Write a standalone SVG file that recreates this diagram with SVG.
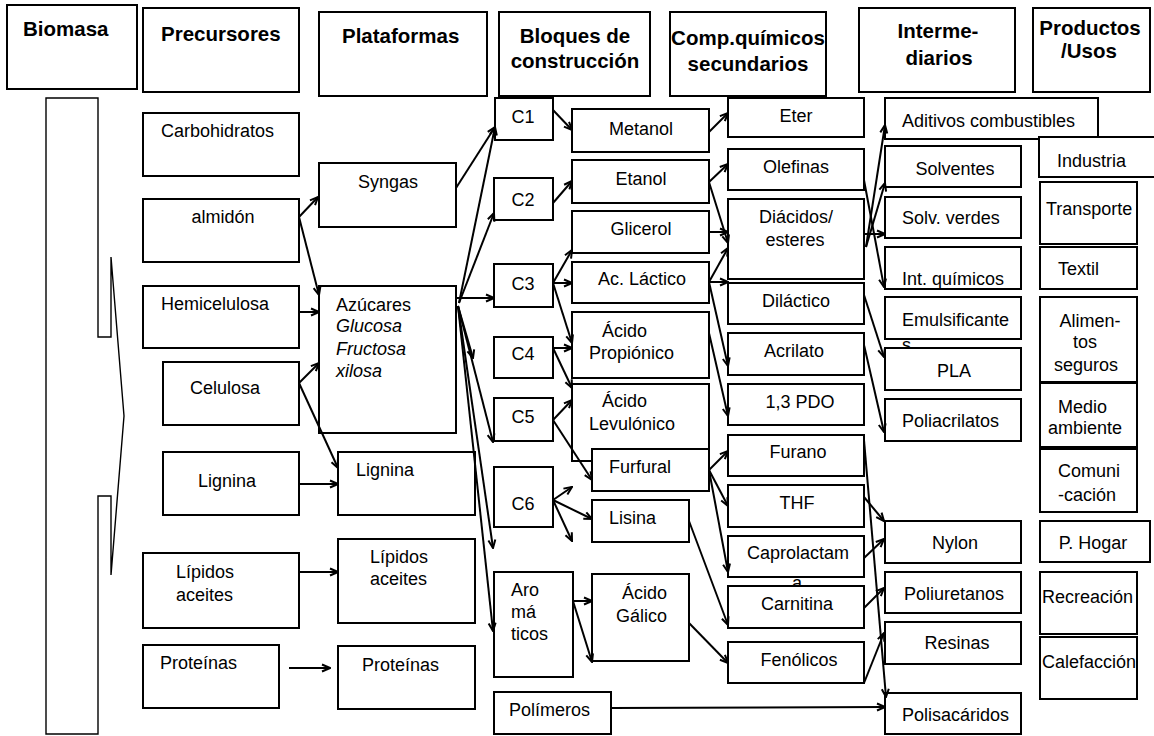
<svg xmlns="http://www.w3.org/2000/svg" width="1154" height="736" viewBox="0 0 1154 736">
<style>
.b{fill:#fff;stroke:#000;stroke-width:2}
text{font-family:"Liberation Sans",Arial,sans-serif;font-size:18px;fill:#000}
.h{font-weight:bold;font-size:20.5px}
.m{text-anchor:middle}
.i{font-style:italic}
#connectors path{fill:none;stroke:#000;stroke-width:2;marker-end:url(#ah)}
</style>
<defs>
<marker id="ah" viewBox="0 0 10 10" refX="9" refY="5" markerWidth="10" markerHeight="10" markerUnits="userSpaceOnUse" orient="auto">
<path d="M1,1.5 L9,5 L1,8.5" fill="none" stroke="#000" stroke-width="2"/>
</marker>
</defs>
<rect width="1154" height="736" fill="#fff"/>

<!-- headers -->
<g id="h-biomasa"><rect class="b" x="7" y="5" width="130" height="84"/><text class="h" x="23" y="36">Biomasa</text></g>
<g id="h-precursores"><rect class="b" x="143" y="8" width="156" height="84"/><text class="h" x="161" y="41">Precursores</text></g>
<g id="h-plataformas"><rect class="b" x="319" y="12" width="168" height="84"/><text class="h" x="342" y="43">Plataformas</text></g>
<g id="h-bloques"><rect class="b" x="499" y="12" width="151" height="84"/><text class="h m" x="575" y="43">Bloques de</text><text class="h m" x="575" y="68">construcción</text></g>
<g id="h-comp"><rect class="b" x="670" y="12" width="156" height="84"/><text class="h m" x="748" y="45">Comp.químicos</text><text class="h m" x="748" y="71">secundarios</text></g>
<g id="h-intermediarios"><rect class="b" x="859" y="8" width="156" height="84"/><text class="h m" x="938" y="38">Interme-</text><text class="h m" x="939" y="65">diarios</text></g>
<g id="h-productos"><rect class="b" x="1033" y="8" width="117" height="84"/><text class="h m" x="1090" y="35">Productos</text><text class="h m" x="1089" y="58">/Usos</text></g>

<!-- biomasa arrow shape -->
<g id="biomasa-shape"><path d="M46,98 H98 V337 H111 V257 L124,416 L111,575 V496 H98 V734 H46 Z" fill="#fff" stroke="#000" stroke-width="1.4"/></g>

<!-- precursores -->
<g id="p-carbohidratos"><rect class="b" x="143" y="113" width="156" height="63"/><text x="161" y="137">Carbohidratos</text></g>
<g id="p-almidon"><rect class="b" x="143" y="199" width="156" height="63"/><text class="m" x="223" y="223">almidón</text></g>
<g id="p-hemicelulosa"><rect class="b" x="143" y="286" width="156" height="62"/><text x="161" y="310">Hemicelulosa</text></g>
<g id="p-celulosa"><rect class="b" x="163" y="362" width="136" height="63"/><text x="190" y="394">Celulosa</text></g>
<g id="p-lignina"><rect class="b" x="163" y="452" width="136" height="63"/><text x="198" y="487">Lignina</text></g>
<g id="p-lipidos"><rect class="b" x="143" y="553" width="156" height="75"/><text x="176" y="578">Lípidos</text><text x="176" y="601">aceites</text></g>
<g id="p-proteinas"><rect class="b" x="143" y="645" width="136" height="63"/><text x="160" y="669">Proteínas</text></g>

<!-- plataformas -->
<g id="pl-syngas"><rect class="b" x="319" y="163" width="137" height="64"/><text class="m" x="388" y="188">Syngas</text></g>
<g id="pl-azucares"><rect class="b" x="319" y="286" width="137" height="147"/><text x="336" y="311">Azúcares</text><text class="i" x="336" y="332">Glucosa</text><text class="i" x="336" y="355">Fructosa</text><text class="i" x="336" y="377">xilosa</text></g>
<g id="pl-lignina"><rect class="b" x="338" y="452" width="137" height="63"/><text x="356" y="476">Lignina</text></g>
<g id="pl-lipidos"><rect class="b" x="338" y="539" width="137" height="84"/><text x="370" y="563">Lípidos</text><text x="370" y="585">aceites</text></g>
<g id="pl-proteinas"><rect class="b" x="338" y="646" width="137" height="63"/><text x="362" y="671">Proteínas</text></g>

<!-- bloques -->
<g id="b-c1"><rect class="b" x="495" y="98" width="58" height="42"/><text class="m" x="523" y="123">C1</text></g>
<g id="b-c2"><rect class="b" x="494" y="178" width="59" height="42"/><text class="m" x="523" y="206">C2</text></g>
<g id="b-c3"><rect class="b" x="494" y="264" width="59" height="43"/><text class="m" x="523" y="290">C3</text></g>
<g id="b-c4"><rect class="b" x="494" y="337" width="59" height="41"/><text class="m" x="523" y="360">C4</text></g>
<g id="b-c5"><rect class="b" x="494" y="398" width="59" height="43"/><text class="m" x="523" y="423">C5</text></g>
<g id="b-c6"><rect class="b" x="494" y="467" width="59" height="60"/><text class="m" x="523" y="510">C6</text></g>
<g id="b-aromaticos"><rect class="b" x="494" y="572" width="79" height="105"/><text x="511" y="596">Aro</text><text x="511" y="618">má</text><text x="511" y="640">ticos</text></g>
<g id="b-polimeros"><rect class="b" x="494" y="692" width="117" height="42"/><text x="509" y="716">Polímeros</text></g>

<!-- compuestos -->
<g id="c-metanol"><rect class="b" x="572" y="109" width="137" height="43"/><text class="m" x="641" y="135">Metanol</text></g>
<g id="c-etanol"><rect class="b" x="572" y="160" width="137" height="43"/><text class="m" x="641" y="185">Etanol</text></g>
<g id="c-glicerol"><rect class="b" x="572" y="211" width="137" height="42"/><text class="m" x="641" y="235">Glicerol</text></g>
<g id="c-lactico"><rect class="b" x="572" y="262" width="137" height="41"/><text class="m" x="642" y="285">Ac. Láctico</text></g>
<g id="c-propionico"><rect class="b" x="572" y="312" width="137" height="66"/><text x="602" y="337">Ácido</text><text x="589" y="359">Propiónico</text></g>
<g id="c-levulonico"><rect class="b" x="572" y="384" width="137" height="77"/><text x="602" y="407">Ácido</text><text x="589" y="430">Levulónico</text></g>
<g id="c-furfural"><rect class="b" x="592" y="449" width="117" height="42"/><text x="609" y="473">Furfural</text></g>
<g id="c-lisina"><rect class="b" x="592" y="500" width="97" height="42"/><text x="609" y="524">Lisina</text></g>
<g id="c-galico"><rect class="b" x="592" y="574" width="97" height="87"/><text x="622" y="599">Ácido</text><text x="616" y="622">Gálico</text></g>

<!-- secundarios -->
<g id="s-eter"><rect class="b" x="728" y="98" width="136" height="39"/><text class="m" x="796" y="122">Eter</text></g>
<g id="s-olefinas"><rect class="b" x="728" y="149" width="136" height="41"/><text class="m" x="796" y="173">Olefinas</text></g>
<g id="s-diacidos"><rect class="b" x="728" y="199" width="136" height="80"/><text class="m" x="796" y="223">Diácidos/</text><text class="m" x="795" y="246">esteres</text></g>
<g id="s-dilactico"><rect class="b" x="728" y="283" width="136" height="41"/><text class="m" x="796" y="307">Diláctico</text></g>
<g id="s-acrilato"><rect class="b" x="728" y="333" width="136" height="42"/><text class="m" x="794" y="357">Acrilato</text></g>
<g id="s-pdo"><rect class="b" x="728" y="384" width="136" height="41"/><text class="m" x="800" y="408">1,3 PDO</text></g>
<g id="s-furano"><rect class="b" x="728" y="435" width="136" height="41"/><text class="m" x="798" y="458">Furano</text></g>
<g id="s-thf"><rect class="b" x="728" y="485" width="136" height="42"/><text class="m" x="797" y="509">THF</text></g>
<g id="s-caprolactama"><rect class="b" x="728" y="536" width="136" height="41"/><text class="m" x="798" y="559">Caprolactam</text><text class="m" x="797" y="589">a</text></g>
<g id="s-carnitina"><rect class="b" x="728" y="586" width="136" height="42"/><text class="m" x="797" y="610">Carnitina</text></g>
<g id="s-fenolicos"><rect class="b" x="728" y="642" width="136" height="41"/><text class="m" x="799" y="666">Fenólicos</text></g>

<!-- intermediarios -->
<g id="i-aditivos"><rect class="b" x="885" y="98" width="213" height="41"/><text x="902" y="127">Aditivos combustibles</text></g>
<g id="i-solventes"><rect class="b" x="885" y="146" width="136" height="41"/><text class="m" x="955" y="175">Solventes</text></g>
<g id="i-solvverdes"><rect class="b" x="885" y="197" width="136" height="41"/><text x="902" y="224">Solv. verdes</text></g>
<g id="i-intquimicos"><rect class="b" x="885" y="247" width="136" height="42"/><text x="902" y="285">Int. químicos</text></g>
<g id="i-emulsificantes"><rect class="b" x="885" y="297" width="136" height="42"/><text x="902" y="326">Emulsificante</text><text x="902" y="351">s</text></g>
<g id="i-pla"><rect class="b" x="885" y="348" width="136" height="42"/><text class="m" x="954" y="377">PLA</text></g>
<g id="i-poliacrilatos"><rect class="b" x="885" y="399" width="136" height="42"/><text x="902" y="427">Poliacrilatos</text></g>
<g id="i-nylon"><rect class="b" x="885" y="521" width="136" height="42"/><text class="m" x="955" y="549">Nylon</text></g>
<g id="i-poliuretanos"><rect class="b" x="885" y="572" width="136" height="41"/><text x="904" y="600">Poliuretanos</text></g>
<g id="i-resinas"><rect class="b" x="885" y="622" width="136" height="42"/><text class="m" x="957" y="649">Resinas</text></g>
<g id="i-polisacaridos"><rect class="b" x="885" y="693" width="136" height="41"/><text x="902" y="721">Polisacáridos</text></g>

<!-- productos -->
<g id="u-industria"><rect class="b" x="1039" y="137" width="125" height="40"/><text x="1057" y="167">Industria</text></g>
<g id="u-transporte"><rect class="b" x="1040" y="182" width="97" height="62"/><text x="1046" y="215">Transporte</text></g>
<g id="u-textil"><rect class="b" x="1040" y="247" width="97" height="42"/><text x="1058" y="275">Textil</text></g>
<g id="u-alimentos"><rect class="b" x="1040" y="297" width="97" height="85"/><text class="m" x="1090" y="327">Alimen-</text><text class="m" x="1085" y="348">tos</text><text class="m" x="1086" y="371">seguros</text></g>
<g id="u-medio"><rect class="b" x="1040" y="383" width="97" height="64"/><text x="1058" y="413">Medio</text><text x="1048" y="434">ambiente</text></g>
<g id="u-comunicacion"><rect class="b" x="1040" y="449" width="97" height="63"/><text x="1058" y="477">Comuni</text><text x="1058" y="501">-cación</text></g>
<g id="u-hogar"><rect class="b" x="1040" y="521" width="110" height="41"/><text class="m" x="1093" y="549">P. Hogar</text></g>
<g id="u-recreacion"><rect class="b" x="1040" y="572" width="97" height="62"/><text x="1042" y="603">Recreación</text></g>
<g id="u-calefaccion"><rect class="b" x="1040" y="637" width="97" height="62"/><text x="1042" y="668">Calefacción</text></g>

<!-- connectors -->
<g id="connectors">
<path d="M299,217 L318,197"/>
<path d="M299,217 L319,295"/>
<path d="M299,312 L319,312"/>
<path d="M299,383 L319,363"/>
<path d="M299,383 L338,468"/>
<path d="M299,484 L338,484"/>
<path d="M299,572 L338,572"/>
<path d="M289,668 L330,668"/>
<path d="M456,188 L495,127"/>
<path d="M459,303 L495,127"/>
<path d="M459,303 L494,213"/>
<path d="M456,298 L494,298"/>
<path d="M458,306 L473,358"/>
<path d="M458,306 L493,442"/>
<path d="M458,306 L493,548"/>
<path d="M458,306 L493,631"/>
<path d="M553,110 L572,130"/>
<path d="M553,203 L572,181"/>
<path d="M553,283 L572,250"/>
<path d="M553,283 L572,283"/>
<path d="M553,283 L572,343"/>
<path d="M553,348 L572,348"/>
<path d="M553,348 L572,388"/>
<path d="M553,420 L572,400"/>
<path d="M553,420 L592,480"/>
<path d="M553,500 L572,487"/>
<path d="M553,500 L592,519"/>
<path d="M553,500 L572,541"/>
<path d="M573,601 L592,601"/>
<path d="M573,601 L592,662"/>
<path d="M611,708 L885,707"/>
<path d="M709,132 L728,113"/>
<path d="M709,182 L728,164"/>
<path d="M709,182 L728,243"/>
<path d="M709,232 L728,232"/>
<path d="M709,282 L728,248"/>
<path d="M709,282 L728,282"/>
<path d="M709,282 L728,366"/>
<path d="M709,333 L728,416"/>
<path d="M709,470 L728,451"/>
<path d="M709,470 L728,506"/>
<path d="M709,470 L728,572"/>
<path d="M689,521 L728,625"/>
<path d="M689,623 L728,663"/>
<path d="M866,247 L885,125"/>
<path d="M866,247 L885,183"/>
<path d="M864,234 L885,234"/>
<path d="M864,180 L884,287"/>
<path d="M864,295 L884,357"/>
<path d="M864,345 L884,432"/>
<path d="M864,440 L886,697"/>
<path d="M864,497 L884,521"/>
<path d="M864,558 L884,539"/>
<path d="M864,608 L884,588"/>
<path d="M864,683 L884,633"/>
</g>
</svg>
